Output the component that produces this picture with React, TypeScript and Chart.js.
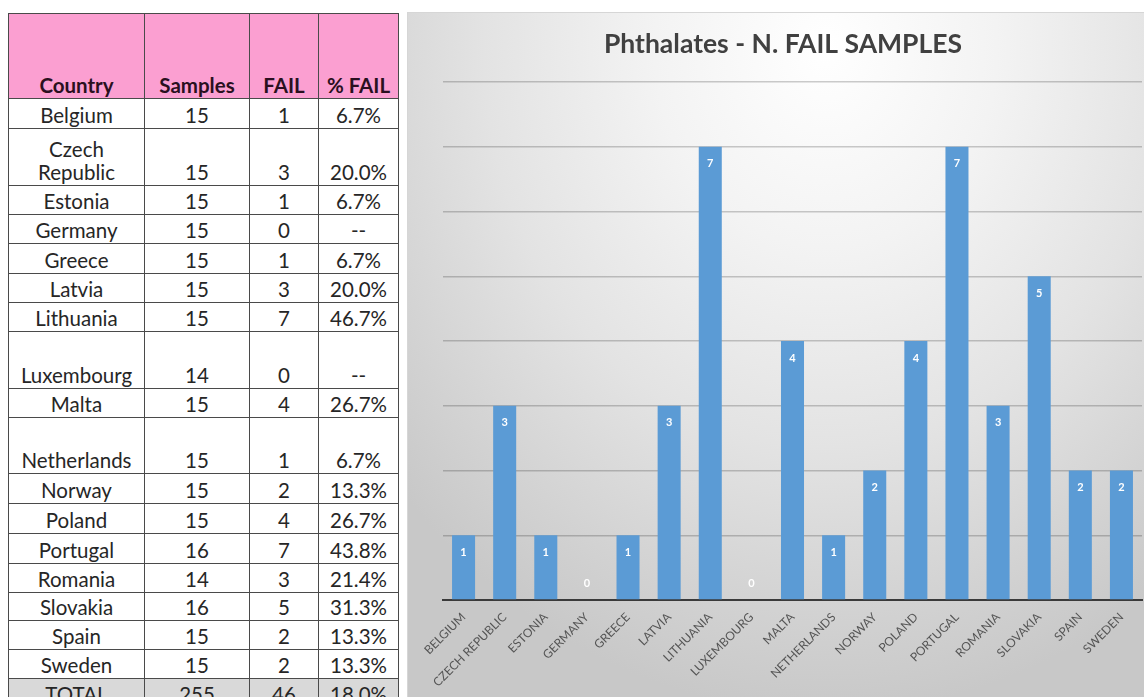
import React, { useEffect, useRef } from "react";
import { Chart, registerables } from "chart.js";

Chart.register(...registerables);

// ---------- data ----------
const countries = [
  "Belgium", "Czech Republic", "Estonia", "Germany", "Greece", "Latvia", "Lithuania",
  "Luxembourg", "Malta", "Netherlands", "Norway", "Poland", "Portugal", "Romania",
  "Slovakia", "Spain", "Sweden",
];
const samples = [15, 15, 15, 15, 15, 15, 15, 14, 15, 15, 15, 15, 16, 14, 16, 15, 15];
const fails = [1, 3, 1, 0, 1, 3, 7, 0, 4, 1, 2, 4, 7, 3, 5, 2, 2];
const pctFail = [
  "6.7%", "20.0%", "6.7%", "--", "6.7%", "20.0%", "46.7%", "--", "26.7%", "6.7%",
  "13.3%", "26.7%", "43.8%", "21.4%", "31.3%", "13.3%", "13.3%",
];
const headers = ["Country", "Samples", "FAIL", "% FAIL"];
const totalRow = ["TOTAL", "255", "46", "18.0%"];
const chartTitle = "Phthalates - N. FAIL SAMPLES";
const yMax = 8;

// ---------- layout constants ----------
const COL_W = [136, 105, 69, 80];
const HEADER_H = 85;
const ROW_H = [30, 57, 29, 29, 30, 29, 29, 57, 29, 56, 30, 30, 30, 29, 28, 29, 29];
const TOTAL_H = 29;
const FONT = "Lato, 'Noto Sans', sans-serif";

const barLabels = {
  id: "barLabels",
  afterDatasetsDraw(chart: any) {
    const ctx = chart.ctx;
    const meta = chart.getDatasetMeta(0);
    const data = chart.data.datasets[0].data as number[];
    ctx.save();
    ctx.fillStyle = "#ffffff";
    ctx.font = "bold 11px Lato, sans-serif";
    ctx.textAlign = "center";
    ctx.textBaseline = "middle";
    meta.data.forEach((el: any, i: number) => {
      const v = data[i];
      const y = v > 0 ? el.y + 17 : el.base - 17;
      ctx.fillText(String(v), el.x, y);
    });
    ctx.restore();
  },
};

function BarChart() {
  const ref = useRef<HTMLCanvasElement | null>(null);
  useEffect(() => {
    if (!ref.current) return;
    const chart = new Chart(ref.current, {
      type: "bar",
      data: {
        labels: countries.map((c) => c.toUpperCase()),
        datasets: [
          {
            data: fails,
            backgroundColor: "#5b9bd5",
            borderWidth: 0,
            barPercentage: 0.56,
            categoryPercentage: 1,
          },
        ],
      },
      options: {
        animation: false,
        responsive: false,
        maintainAspectRatio: false,
        layout: { padding: { left: 18, right: 18, top: 0, bottom: 0 } },
        plugins: {
          legend: { display: false },
          tooltip: { enabled: false },
          title: {
            display: true,
            text: chartTitle,
            color: "#404040",
            font: { family: "Lato", size: 26.5, weight: "bold" },
            padding: { top: 15.1, bottom: 22.1 },
          },
        },
        scales: {
          x: {
            grid: { display: false },
            border: { display: true, color: "#3a3a3a", width: 2 },
            ticks: {
              color: "#555555",
              font: { family: "Lato", size: 12 },
              maxRotation: 45,
              minRotation: 45,
              autoSkip: false,
              padding: 2,
            },
            afterFit: (s: any) => {
              s.height = 97;
            },
          },
          y: {
            min: 0,
            max: yMax,
            ticks: { display: false, stepSize: 1 },
            grid: {
              color: (c: any) => (c.tick.value === 0 ? "rgba(0,0,0,0)" : "rgba(0,0,0,0.2)"),
              lineWidth: 1.5,
              drawTicks: false,
            },
            border: { display: false },
            afterFit: (s: any) => {
              s.width = 19;
            },
          },
        },
      },
      plugins: [barLabels],
    });
    return () => chart.destroy();
  }, []);
  return (
    <canvas
      ref={ref}
      width={754}
      height={684}
      style={{ position: "absolute", left: 406, top: 13, width: 754, height: 684 }}
    />
  );
}

function DataTable() {
  const cell = (extra: React.CSSProperties = {}): React.CSSProperties => ({
    border: "1px solid #4a4a4a",
    padding: "0 2px 1px",
    textAlign: "center",
    verticalAlign: "bottom",
    lineHeight: "23px",
    ...extra,
  });
  return (
    <table
      style={{
        position: "absolute",
        left: 8,
        top: 13,
        borderCollapse: "collapse",
        tableLayout: "fixed",
        fontFamily: FONT,
        fontSize: 20.5,
        color: "#262626",
      }}
    >
      <colgroup>
        {COL_W.map((w, i) => (
          <col key={i} style={{ width: w }} />
        ))}
      </colgroup>
      <tbody>
        <tr style={{ height: HEADER_H, background: "#fb9fd1" }}>
          {headers.map((h) => (
            <td key={h} style={cell({ fontWeight: "bold", color: "#2a1020" })}>
              {h}
            </td>
          ))}
        </tr>
        {countries.map((c, i) => (
          <tr key={c} style={{ height: ROW_H[i], background: "#ffffff" }}>
            <td style={cell({ whiteSpace: "pre-line" })}>{c.split(" ").join("\n")}</td>
            <td style={cell()}>{samples[i]}</td>
            <td style={cell()}>{fails[i]}</td>
            <td style={cell()}>{pctFail[i]}</td>
          </tr>
        ))}
        <tr style={{ height: TOTAL_H, background: "#d9d9d9" }}>
          {totalRow.map((t) => (
            <td key={t} style={cell()}>
              {t}
            </td>
          ))}
        </tr>
      </tbody>
    </table>
  );
}

export default function App() {
  return (
    <div
      style={{
        position: "fixed",
        left: 0,
        top: 0,
        width: 1144,
        height: 697,
        overflow: "hidden",
        background: "#ffffff",
      }}
    >
      <DataTable />
      <div
        style={{
          position: "absolute",
          left: 407,
          top: 12,
          width: 760,
          height: 700,
          border: "1px solid #d6d6d6",
          background:
            "radial-gradient(ellipse 75% 95% at 55% 5%, #ffffff 0%, #f3f3f3 30%, #e3e3e3 60%, #d2d2d2 85%, #c8c8c8 100%)",
        }}
      />
      <BarChart />
    </div>
  );
}
